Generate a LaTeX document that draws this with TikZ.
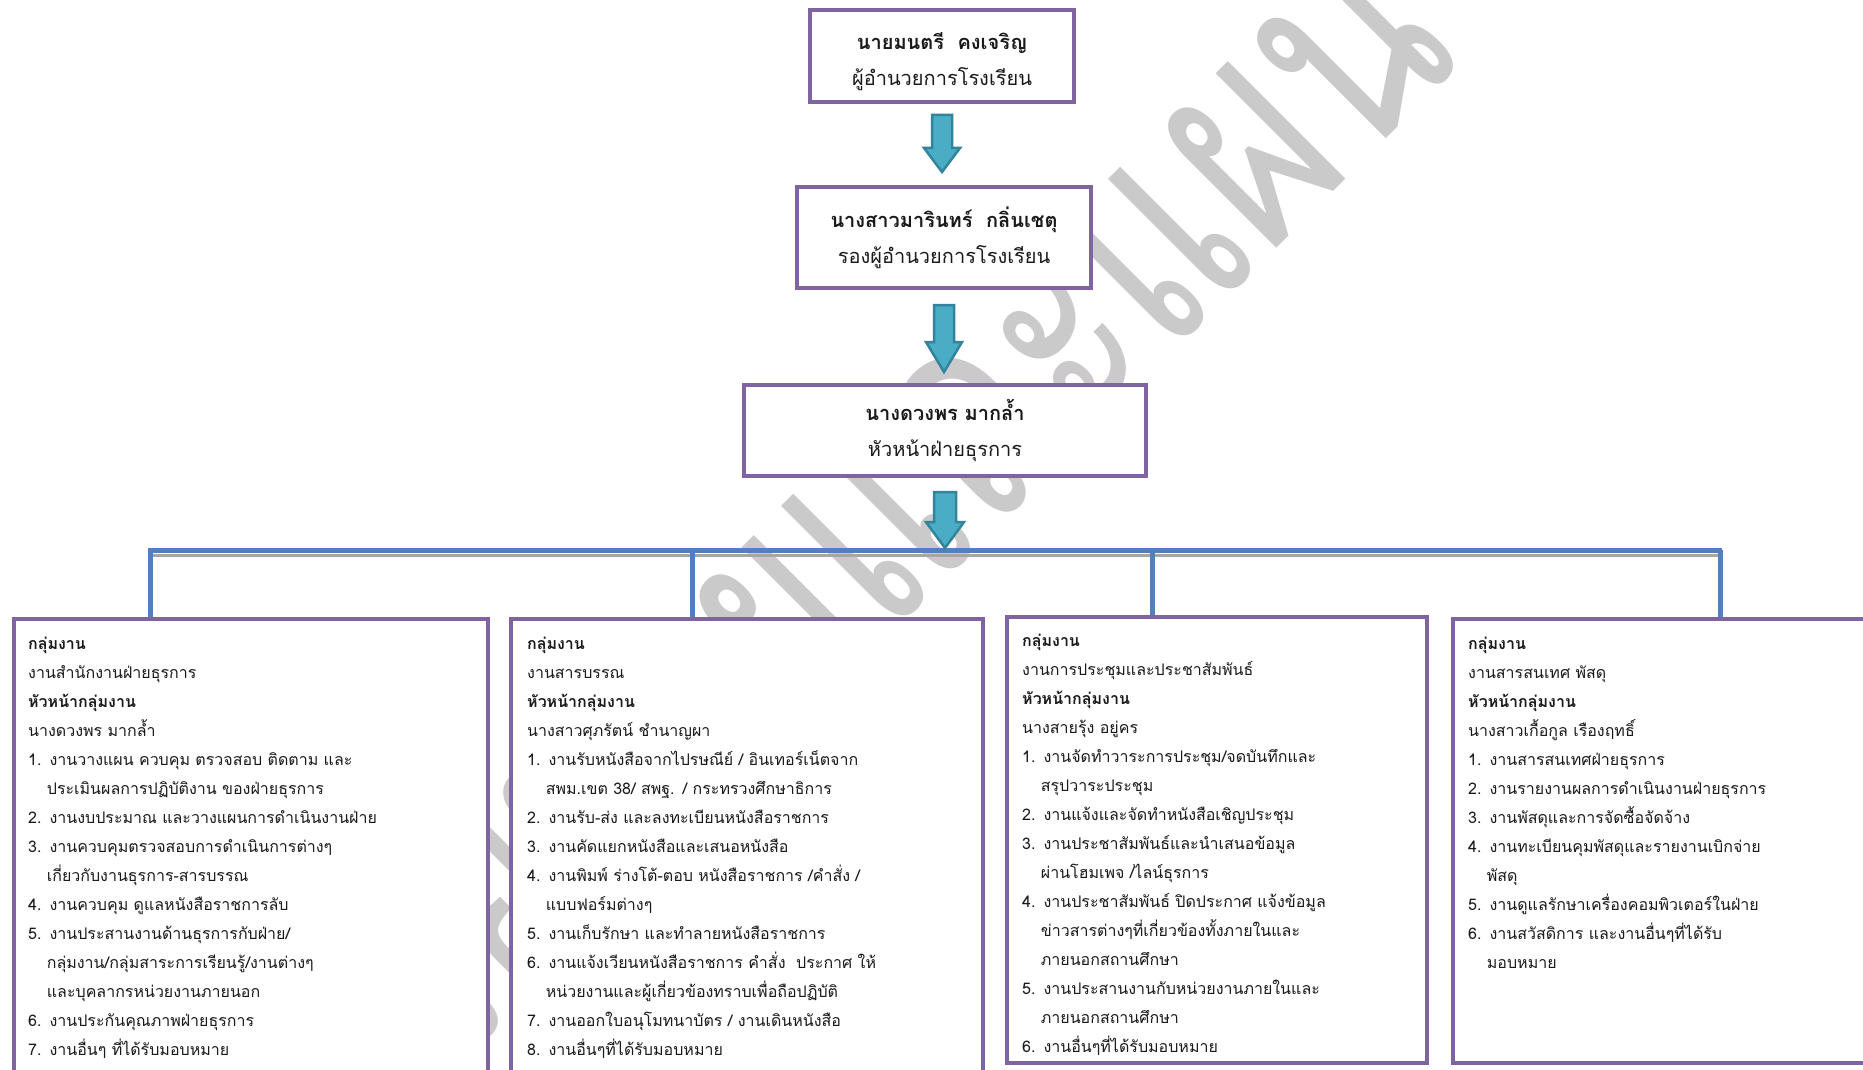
\documentclass[tikz,border=0pt]{standalone}
\usepackage{fontspec}
\setmainfont[Script=Thai]{Loma}
\usetikzlibrary{calc}
\definecolor{boxpurple}{HTML}{8064A2}
\definecolor{arrowfill}{HTML}{4BACC6}
\definecolor{arrowline}{HTML}{31849B}
\definecolor{busblue}{HTML}{4F81BD}
\definecolor{wmgray}{HTML}{CACACA}
\definecolor{txt}{HTML}{1A1A1A}
\begin{document}
\begin{tikzpicture}[x=1pt,y=-1pt,
  topbox/.style={draw=boxpurple, line width=4pt, fill=white, align=center, inner sep=0pt, font=\fontsize{20}{36}\selectfont, text=txt},
  grpbox/.style={draw=boxpurple, line width=4pt, fill=white, inner sep=0pt, anchor=north west},
  grptext/.style={anchor=north west, inner sep=0pt, align=left, text width=440pt, font=\fontsize{16}{29}\selectfont, text=txt},
  barrow/.style={fill=arrowfill, draw=arrowline, line width=2.5pt, line join=miter},
  bus/.style={draw=busblue, line width=5pt},
  wm/.style={text=wmgray, font=\fontsize{260}{260}\selectfont, inner sep=0pt}
]
\useasboundingbox (0,0) rectangle (1863,1070);
\clip (0,0) rectangle (1863,1070);
\fill[white] (0,0) rectangle (1863,1070);

% watermark
\node[wm, rotate=45, anchor=base east] (wmark) at (1465,60) {\scalebox{0.85}[1.15]{นโยบายและแผน}};

% top boxes
\node[topbox, minimum width=264pt, minimum height=92pt] (b1) at (942,56)
  {\rule{0pt}{28pt}\textbf{นายมนตรี~~คงเจริญ}\\ผู้อำนวยการโรงเรียน};
\node[topbox, minimum width=294pt, minimum height=101pt] (b2) at (944,237.5)
  {\textbf{นางสาวมารินทร์~~กลิ่นเชตุ}\\รองผู้อำนวยการโรงเรียน};
\node[topbox, minimum width=402pt, minimum height=91pt] (b3) at (945,430.5)
  {\textbf{นางดวงพร มากล้ำ}\\หัวหน้าฝ่ายธุรการ};

% bus
\coordinate (busL) at (148,550);
\coordinate (busR) at (1722,550);
\coordinate (hub) at (943,550);
\draw[gray!70, line width=3pt] ($(busL)+(2,5)$) -- ($(busR)+(0,5)$);
\draw[bus] (busL) -- (busR);

% group boxes
\node[grpbox, minimum width=474pt, minimum height=470pt] (A) at (12,617) {};
\node[grpbox, minimum width=472pt, minimum height=470pt] (B) at (509,617) {};
\node[grpbox, minimum width=420pt, minimum height=446pt] (C) at (1005,615) {};
\node[grpbox, minimum width=424pt, minimum height=444pt] (D) at (1451,617) {};

% drop lines
\coordinate (dA) at (150,550);
\coordinate (dB) at (692,550);
\coordinate (dC) at (1152,550);
\coordinate (dD) at (1720,550);
\draw[bus] (dA) -- (dA |- A.north);
\draw[bus] (dB) -- (dB |- B.north);
\draw[bus] (dC) -- (dC |- C.north);
\draw[bus] (dD) -- (dD |- D.north);

% block arrows
\path[barrow] let \p1=($(b1.south)+(0,11)$), \p2=($(b2.north)+(0,-13)$) in
  (\x1-10pt,\y1) -- (\x1+10pt,\y1) -- (\x1+10pt,\y2+24pt) -- (\x1+18pt,\y2+24pt) -- (\x1,\y2)
  -- (\x1-18pt,\y2+24pt) -- (\x1-10pt,\y2+24pt) -- cycle;
\path[barrow] let \p1=($(b2.south)+(0,15)$), \p2=($(b3.north)+(0,-11)$) in
  (\x1-10pt,\y1) -- (\x1+10pt,\y1) -- (\x1+10pt,\y2+30pt) -- (\x1+18pt,\y2+30pt) -- (\x1,\y2)
  -- (\x1-18pt,\y2+30pt) -- (\x1-10pt,\y2+30pt) -- cycle;
\path[barrow] let \p1=($(b3.south)+(0,14)$), \p2=($(hub)+(0,-2)$) in
  (\x1-11pt,\y1) -- (\x1+11pt,\y1) -- (\x1+11pt,\y2+26pt) -- (\x1+19pt,\y2+26pt) -- (\x1,\y2)
  -- (\x1-19pt,\y2+26pt) -- (\x1-11pt,\y2+26pt) -- cycle;

% group texts
\node[grptext] (tA) at (28,629) {\rule{0pt}{20pt}\textbf{กลุ่มงาน}\\
งานสำนักงานฝ่ายธุรการ\\
\textbf{หัวหน้ากลุ่มงาน}\\
นางดวงพร มากล้ำ\\
1. งานวางแผน ควบคุม ตรวจสอบ ติดตาม และ\\
\phantom{1.\ }ประเมินผลการปฏิบัติงาน ของฝ่ายธุรการ\\
2. งานงบประมาณ และวางแผนการดำเนินงานฝ่าย\\
3. งานควบคุมตรวจสอบการดำเนินการต่างๆ\\
\phantom{1.\ }เกี่ยวกับงานธุรการ-สารบรรณ\\
4. งานควบคุม ดูแลหนังสือราชการลับ\\
5. งานประสานงานด้านธุรการกับฝ่าย/\\
\phantom{1.\ }กลุ่มงาน/กลุ่มสาระการเรียนรู้/งานต่างๆ\\
\phantom{1.\ }และบุคลากรหน่วยงานภายนอก\\
6. งานประกันคุณภาพฝ่ายธุรการ\\
7. งานอื่นๆ ที่ได้รับมอบหมาย};

\node[grptext] (tB) at (527,629) {\rule{0pt}{20pt}\textbf{กลุ่มงาน}\\
งานสารบรรณ\\
\textbf{หัวหน้ากลุ่มงาน}\\
นางสาวศุภรัตน์ ชำนาญผา\\
1. งานรับหนังสือจากไปรษณีย์ / อินเทอร์เน็ตจาก\\
\phantom{1.\ }สพม.เขต 38/ สพฐ. / กระทรวงศึกษาธิการ\\
2. งานรับ-ส่ง และลงทะเบียนหนังสือราชการ\\
3. งานคัดแยกหนังสือและเสนอหนังสือ\\
4. งานพิมพ์ ร่างโต้-ตอบ หนังสือราชการ /คำสั่ง /\\
\phantom{1.\ }แบบฟอร์มต่างๆ\\
5. งานเก็บรักษา และทำลายหนังสือราชการ\\
6. งานแจ้งเวียนหนังสือราชการ คำสั่ง~~ประกาศ ให้\\
\phantom{1.\ }หน่วยงานและผู้เกี่ยวข้องทราบเพื่อถือปฏิบัติ\\
7. งานออกใบอนุโมทนาบัตร / งานเดินหนังสือ\\
8. งานอื่นๆที่ได้รับมอบหมาย};

\node[grptext, text width=400pt] (tC) at (1022,626) {\rule{0pt}{20pt}\textbf{กลุ่มงาน}\\
งานการประชุมและประชาสัมพันธ์\\
\textbf{หัวหน้ากลุ่มงาน}\\
นางสายรุ้ง อยู่คร\\
1. งานจัดทำวาระการประชุม/จดบันทึกและ\\
\phantom{1.\ }สรุปวาระประชุม\\
2. งานแจ้งและจัดทำหนังสือเชิญประชุม\\
3. งานประชาสัมพันธ์และนำเสนอข้อมูล\\
\phantom{1.\ }ผ่านโฮมเพจ /ไลน์ธุรการ\\
4. งานประชาสัมพันธ์ ปิดประกาศ แจ้งข้อมูล\\
\phantom{1.\ }ข่าวสารต่างๆที่เกี่ยวข้องทั้งภายในและ\\
\phantom{1.\ }ภายนอกสถานศึกษา\\
5. งานประสานงานกับหน่วยงานภายในและ\\
\phantom{1.\ }ภายนอกสถานศึกษา\\
6. งานอื่นๆที่ได้รับมอบหมาย};

\node[grptext, text width=390pt] (tD) at (1468,629) {\rule{0pt}{20pt}\textbf{กลุ่มงาน}\\
งานสารสนเทศ พัสดุ\\
\textbf{หัวหน้ากลุ่มงาน}\\
นางสาวเกื้อกูล เรืองฤทธิ์\\
1. งานสารสนเทศฝ่ายธุรการ\\
2. งานรายงานผลการดำเนินงานฝ่ายธุรการ\\
3. งานพัสดุและการจัดซื้อจัดจ้าง\\
4. งานทะเบียนคุมพัสดุและรายงานเบิกจ่าย\\
\phantom{1.\ }พัสดุ\\
5. งานดูแลรักษาเครื่องคอมพิวเตอร์ในฝ่าย\\
6. งานสวัสดิการ และงานอื่นๆที่ได้รับ\\
\phantom{1.\ }มอบหมาย};
\end{tikzpicture}
\end{document}
